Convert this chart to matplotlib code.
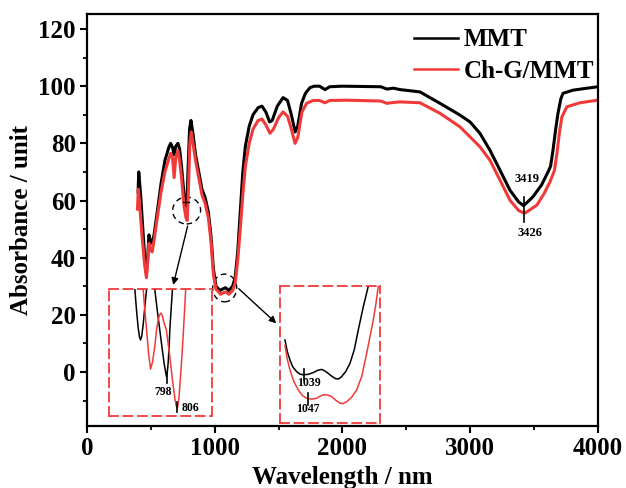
import matplotlib
matplotlib.use('Agg')
import matplotlib.pyplot as plt
from matplotlib.patches import Ellipse
from matplotlib.ticker import MultipleLocator

plt.rcParams['font.family'] = ['Liberation Serif', 'DejaVu Serif']
plt.rcParams['font.weight'] = 'bold'
plt.rcParams['axes.labelweight'] = 'bold'

# ---------------- main spectra ----------------
mmt_x = [400, 405, 420, 440, 455, 465, 475, 485, 495, 510, 525, 550, 580, 610, 640, 655, 670, 682,
         695, 712, 725, 740, 760, 775, 783, 792, 803, 814, 828, 850, 875, 900, 925, 950, 970, 990,
         1010, 1040, 1060, 1085, 1110, 1140, 1160, 1180, 1200, 1220, 1240, 1270, 1300, 1340, 1370,
         1400, 1430, 1450, 1490, 1535, 1570, 1600, 1630, 1650, 1680, 1710, 1746, 1780, 1820, 1864,
         1900, 2000, 2300, 2349, 2400, 2451, 2607, 2764, 2920, 2999, 3077, 3155, 3234, 3312, 3380,
         3419, 3450, 3492, 3560, 3610, 3630, 3649, 3670, 3688, 3710, 3727, 3805, 3900, 4000]
mmt_y = [63, 70, 62, 48, 38, 34.5, 40, 48, 46, 45, 48, 56, 66, 74, 78.5, 80, 78.5, 76,
         79, 80, 78, 72, 62, 58, 60, 72, 85, 88, 84, 76, 70, 64, 61, 56, 48, 36,
         30, 28.5, 29, 29.5, 28.5, 30, 33, 42, 56, 70, 79, 86, 90, 92.5, 93,
         91, 87.5, 88, 93, 96, 95, 90, 84, 86, 94, 97.5, 99.5, 100, 100, 98.8,
         99.8, 100, 99.8, 99, 99.3, 98.8, 98, 94, 89.9, 87.5, 83.5, 77.6, 70.6, 63.6, 59.5,
         58.2, 59.5, 61.3, 65.5, 70, 72, 77.6, 85, 90.5, 95.5, 97.5, 98.6, 99.2, 99.8]

chg_x = [395, 402, 410, 430, 450, 465, 475, 485, 495, 510, 525, 550, 580, 610, 640, 655, 670, 682,
         695, 712, 725, 740, 760, 775, 785, 795, 805, 816, 830, 850, 875, 900, 925, 950, 970, 990,
         1010, 1047, 1070, 1090, 1110, 1140, 1160, 1180, 1200, 1220, 1240, 1270, 1300, 1340, 1370,
         1400, 1433, 1460, 1500, 1535, 1570, 1600, 1629, 1650, 1683, 1720, 1770, 1820, 1864, 1900,
         2036, 2300, 2349, 2400, 2451, 2607, 2764, 2920, 3077, 3155, 3234, 3312, 3380, 3426, 3470,
         3523, 3580, 3625, 3660, 3680, 3700, 3719, 3758, 3860, 4000]
chg_y = [57, 64, 60, 48, 38, 33, 38, 45, 43, 42, 46, 54, 63, 70, 74.5, 76.5, 75, 68,
         75, 77.5, 74, 68, 58, 54, 53, 65, 80, 84, 80, 74, 68, 62, 59, 54, 46, 34,
         29, 27.2, 27.8, 28, 27.2, 28.5, 31, 39, 50, 62, 72, 80, 85, 88, 88.5,
         86.5, 83.5, 85, 89, 91, 89.5, 85, 80, 82, 91, 94, 95, 95, 94.2, 95,
         95.1, 94.8, 94, 94.3, 94.5, 94.2, 90.5, 85.8, 78.8, 74.1, 67.1, 60.1, 56.5, 55.5, 56.8,
         58.4, 62.5, 66.5, 70.5, 76.5, 84, 89.3, 92.8, 94.2, 95.1]

# ---------------- inset 1 (around 798 / 806) ----------------
in1_mmt_a_x = [774.0, 775.2, 776.5, 777.5, 778.3, 779.2, 780.4, 781.6, 782.9]
in1_mmt_a_y = [29, 22, 15.5, 12.3, 11.2, 12.5, 17, 23, 29]
in1_mmt_b_x = [789.1, 791.0, 792.9, 794.6, 796.2, 797.2, 798.0, 798.7, 799.2, 800.0, 800.5, 801.5, 802.5]
in1_mmt_b_y = [29, 21.5, 14.7, 8.5, 3, 0.3, -1.7, 0.5, 3, 9.0, 14.7, 22, 29]
in1_chg_x = [780.3, 781.5, 782.9, 784.4, 785.9, 787.4, 789.1, 790.4, 791.6, 792.6, 793.7, 794.8,
             795.9, 797.9, 800.5, 802.5, 804.5, 805.3, 806.0, 806.8, 807.5, 808.4, 809.3, 810.2,
             811.0, 811.8, 812.5]
in1_chg_y = [29, 22, 14.7, 6.5, 1, 3.5, 8.9, 14.5, 18, 19.8, 20.6, 19.8,
             17.5, 14.7, 5.4, -2.8, -9.8, -11.8, -12.6, -11.5, -8.6, -3.0, 3.1, 9.5,
             16, 22.5, 29]

# ---------------- inset 2 (around 1039 / 1047) ----------------
in2_mmt_x = [1000.4, 1005, 1010.4, 1016, 1023.8, 1030, 1037, 1047, 1057, 1066, 1073.8, 1080, 1087,
             1095, 1102.4, 1108, 1113.8, 1122, 1130.4, 1139, 1147, 1157, 1167]
in2_mmt_y = [11.2, 7.2, 4.2, 1.8, 0.1, -0.7, -1.0, -0.8, -0.2, 0.6, 0.9, 0.4, -0.5,
             -1.6, -2.4, -2.4, -1.6, 0.2, 3.0, 7.8, 14.7, 22.8, 30]
in2_chg_x = [1000.4, 1005, 1010.4, 1018, 1027, 1035, 1043.8, 1054, 1063.8, 1070, 1077, 1085, 1093.8,
             1102, 1110.4, 1117, 1123.8, 1133, 1143.8, 1154, 1163.8, 1170, 1177, 1182, 1187]
in2_chg_y = [9.4, 4.5, 0.7, -3.3, -6.3, -8.2, -9.2, -9.5, -9.2, -8.5, -8.0, -8.0, -8.6,
             -9.9, -10.9, -11.0, -10.4, -9.0, -6.3, -1.5, 6.5, 12.0, 18.2, 23.5, 30]

peak_labels = ['3419', '3426', '798', '806', '1039', '1047']

BLACK = '#000000'
RED = '#f03a3a'

fig = plt.figure(figsize=(6.26, 4.88), dpi=100)
ax = fig.add_axes([0.139, 0.127, 0.816, 0.844])

ax.plot(mmt_x, mmt_y, color=BLACK, lw=2.2, label='MMT', solid_joinstyle='round')
ax.plot(chg_x, chg_y, color=RED, lw=2.2, label='Ch-G/MMT', solid_joinstyle='round')

ax.set_xlim(0, 4000)
ax.set_ylim(-18.9, 125.2)
ax.xaxis.set_major_locator(MultipleLocator(1000))
ax.xaxis.set_minor_locator(MultipleLocator(500))
ax.yaxis.set_major_locator(MultipleLocator(20))
ax.yaxis.set_minor_locator(MultipleLocator(10))
ax.set_yticks([0, 20, 40, 60, 80, 100, 120])
ax.tick_params(which='major', direction='out', length=5, width=1.5, labelsize=18, pad=3,
               top=False, right=False)
ax.tick_params(which='minor', direction='out', length=3, width=1.3, top=False, right=False)
for s in ax.spines.values():
    s.set_linewidth(1.6)

ax.set_xlabel('Wavelength / nm', fontsize=18, labelpad=4)
ax.set_ylabel('Absorbance / unit', fontsize=18, labelpad=4)

leg = ax.legend(loc='upper right', bbox_to_anchor=(1.012, 0.99), frameon=False, fontsize=18,
                handlelength=1.76, handletextpad=0.2, labelspacing=0.33, borderaxespad=0.1,
                borderpad=0.3)
for line in leg.get_lines():
    line.set_linewidth(1.8)

# 3419 / 3426 annotation
ax.plot([3422, 3422], [52.6, 61.3], color=BLACK, lw=1.2)
ax.text(3442, 67.7, peak_labels[0], fontsize=9, ha='center', va='center')
ax.text(3469, 48.6, peak_labels[1], fontsize=9, ha='center', va='center')

# dashed ellipses
ax.add_patch(Ellipse((780, 56.5), 219, 9.4, fill=False, ls=(0, (4, 3)), lw=1.0, color=BLACK))
ax.add_patch(Ellipse((1078, 29.4), 188, 9.7, fill=False, ls=(0, (4, 3)), lw=1.0, color=BLACK))
ax.plot([755, 800], [59.6, 59.6], color=BLACK, lw=1.0)

# arrows
ax.annotate('', xy=(670, 29.5), xytext=(793, 52),
            arrowprops=dict(arrowstyle='-|>', color=BLACK, lw=1.0, mutation_scale=10))
ax.annotate('', xy=(1498, 16.4), xytext=(1172, 29.8),
            arrowprops=dict(arrowstyle='-|>', color=BLACK, lw=1.0, mutation_scale=10))

def make_inset(x0, x1, y0, y1, xl, yl):
    ia = ax.inset_axes([x0, y0, x1 - x0, y1 - y0], transform=ax.transData)
    ia.set_xlim(*xl)
    ia.set_ylim(*yl)
    ia.patch.set_alpha(0)
    ia.set_xticks([])
    ia.set_yticks([])
    for s in ia.spines.values():
        s.set_color(RED)
        s.set_linestyle((0, (5, 3)))
        s.set_linewidth(1.3)
    return ia

ia1 = make_inset(172, 976, -15.4, 29.0, (754.4, 832.2), (-15.4, 29.0))
ia1.plot(in1_mmt_a_x, in1_mmt_a_y, color=BLACK, lw=1.1)
ia1.plot(in1_mmt_b_x, in1_mmt_b_y, color=BLACK, lw=1.1)
ia1.plot(in1_chg_x, in1_chg_y, color=RED, lw=1.1)
ia1.plot([798, 798], [-0.5, -4.0], color=BLACK, lw=1.2)
ia1.plot([806, 806], [-10.4, -13.9], color=BLACK, lw=1.2)
ia1.text(795.2, -6.9, peak_labels[2], fontsize=8.5, ha='center', va='center')
ia1.text(816.3, -12.5, peak_labels[3], fontsize=8.5, ha='center', va='center')

ia2 = make_inset(1511, 2294, -17.7, 30.1, (990.4, 1190.4), (-17.7, 30.1))
ia2.plot(in2_mmt_x, in2_mmt_y, color=BLACK, lw=1.1)
ia2.plot(in2_chg_x, in2_chg_y, color=RED, lw=1.1)
ia2.plot([1039, 1039], [1.0, -2.8], color=BLACK, lw=1.2)
ia2.plot([1047, 1047], [-7.3, -11.5], color=BLACK, lw=1.2)
ia2.text(1049, -4.0, peak_labels[4], fontsize=8.5, ha='center', va='center')
ia2.text(1047, -12.9, peak_labels[5], fontsize=8.5, ha='center', va='center')

fig.savefig('out.png', dpi=100)
